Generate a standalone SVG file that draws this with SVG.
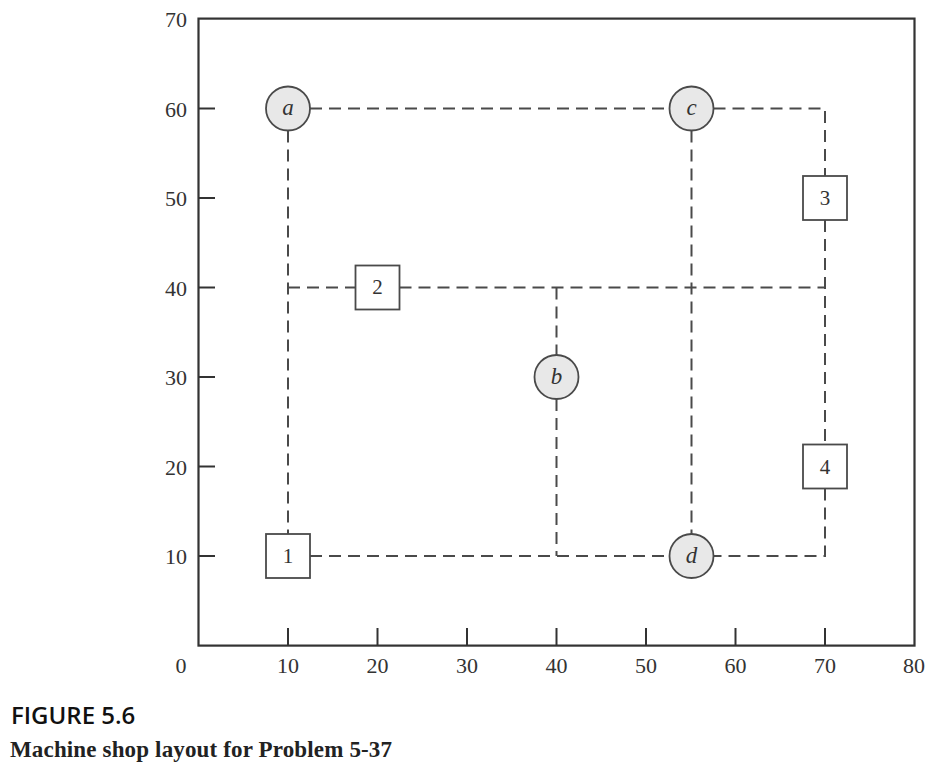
<svg xmlns="http://www.w3.org/2000/svg" width="936" height="771" viewBox="0 0 936 771">
<style>
.frame{fill:none;stroke:#333;stroke-width:2.2}
.tick{stroke:#333;stroke-width:2}
.axl{font-family:"Liberation Serif",serif;font-size:22px;fill:#333}
.dash{fill:none;stroke:#4a4a4a;stroke-width:2;stroke-dasharray:12 7}
.circ{fill:#e8e8e8;stroke:#4a4a4a;stroke-width:1.8}
.sq{fill:#fff;stroke:#4a4a4a;stroke-width:1.8}
.lab{font-family:"Liberation Serif",serif;font-size:21px;fill:#333;text-anchor:middle}
.it{font-style:italic;font-size:23px}
</style>
<rect width="936" height="771" fill="#fff"/>
<g id="axes">
<rect class="frame" x="198.5" y="18.6" width="716" height="627"/>
<g class="tick">
<line x1="288" y1="645.6" x2="288" y2="628"/>
<line x1="377.5" y1="645.6" x2="377.5" y2="628"/>
<line x1="467" y1="645.6" x2="467" y2="628"/>
<line x1="556.5" y1="645.6" x2="556.5" y2="628"/>
<line x1="646" y1="645.6" x2="646" y2="628"/>
<line x1="735.5" y1="645.6" x2="735.5" y2="628"/>
<line x1="825" y1="645.6" x2="825" y2="628"/>
<line x1="198.5" y1="556" x2="215" y2="556"/>
<line x1="198.5" y1="466.5" x2="215" y2="466.5"/>
<line x1="198.5" y1="377" x2="215" y2="377"/>
<line x1="198.5" y1="287.5" x2="215" y2="287.5"/>
<line x1="198.5" y1="198" x2="215" y2="198"/>
<line x1="198.5" y1="108.5" x2="215" y2="108.5"/>
</g>
<g class="axl" text-anchor="end">
<text x="187" y="27">70</text>
<text x="187" y="117">60</text>
<text x="187" y="206">50</text>
<text x="187" y="296">40</text>
<text x="187" y="385">30</text>
<text x="187" y="475">20</text>
<text x="187" y="564">10</text>
</g>
<g class="axl" text-anchor="middle">
<text x="181" y="673">0</text>
<text x="288" y="673">10</text>
<text x="377.5" y="673">20</text>
<text x="467" y="673">30</text>
<text x="556.5" y="673">40</text>
<text x="646" y="673">50</text>
<text x="735.5" y="673">60</text>
<text x="825" y="673">70</text>
<text x="914" y="673">80</text>
</g>
</g>
<g id="connectors">
<path class="dash" d="M310 108.5 H669.5"/>
<path class="dash" d="M713.5 108.5 H825 V176"/>
<path class="dash" d="M825 220 V444.5"/>
<path class="dash" d="M825 488.5 V556 H713.5"/>
<path class="dash" d="M288 130.5 V534"/>
<path class="dash" d="M288 287.5 H355.5"/>
<path class="dash" d="M399.5 287.5 H825"/>
<path class="dash" d="M556.5 287.5 V355"/>
<path class="dash" d="M556.5 399 V556"/>
<path class="dash" d="M310 556 H669.5"/>
<path class="dash" d="M691.5 130.5 V534"/>
</g>
<g id="node-a"><circle class="circ" cx="288" cy="108.5" r="22"/><text class="lab it" x="288" y="115">a</text></g>
<g id="node-c"><circle class="circ" cx="691.5" cy="108.5" r="22"/><text class="lab it" x="691.5" y="115">c</text></g>
<g id="node-b"><circle class="circ" cx="556.5" cy="377" r="22"/><text class="lab it" x="556.5" y="384">b</text></g>
<g id="node-d"><circle class="circ" cx="691.5" cy="556" r="22"/><text class="lab it" x="691.5" y="563">d</text></g>
<g id="node-1"><rect class="sq" x="266" y="534" width="44" height="44"/><text class="lab" x="288" y="563">1</text></g>
<g id="node-2"><rect class="sq" x="355.5" y="265.5" width="44" height="44"/><text class="lab" x="377.5" y="294">2</text></g>
<g id="node-3"><rect class="sq" x="803" y="176" width="44" height="44"/><text class="lab" x="825" y="205">3</text></g>
<g id="node-4"><rect class="sq" x="803" y="444.5" width="44" height="44"/><text class="lab" x="825" y="474">4</text></g>
<g id="caption">
<text x="11" y="724" font-family="'Open Sans',sans-serif" font-size="24" font-weight="600" fill="#111">FIGURE 5.6</text>
<text x="10" y="757" font-family="'Liberation Serif',serif" font-size="23" font-weight="bold" fill="#222" textLength="382" lengthAdjust="spacing">Machine shop layout for Problem 5-37</text>
</g>
</svg>
